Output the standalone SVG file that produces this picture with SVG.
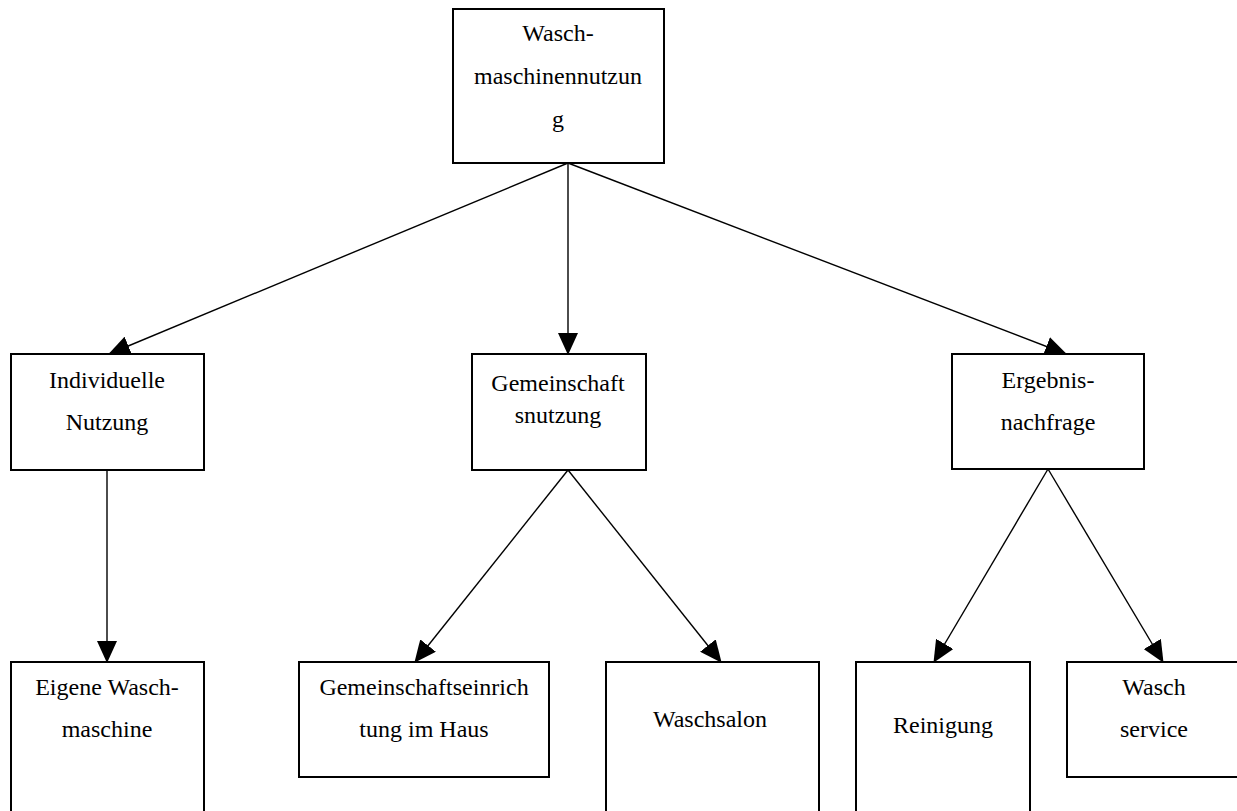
<svg xmlns="http://www.w3.org/2000/svg" width="1237" height="811" viewBox="0 0 1237 811">
<style>
.box{fill:#fff;stroke:#000;stroke-width:2}
.t{font-family:"Liberation Serif","Times New Roman",serif;font-size:24px;fill:#000;text-anchor:middle}
.c{stroke:#000;stroke-width:1.4;fill:none;marker-end:url(#ah)}
</style>
<defs>
<marker id="ah" markerUnits="userSpaceOnUse" markerWidth="22" markerHeight="20" refX="21" refY="10" orient="auto" viewBox="0 0 22 20">
<path d="M0,0 L22,10 L0,20 Z" fill="#000"/>
</marker>
</defs>
<rect width="1237" height="811" fill="#fff"/>
<g id="connectors">
<line class="c" x1="568" y1="163" x2="109" y2="354"/>
<line class="c" x1="568" y1="163" x2="568" y2="354"/>
<line class="c" x1="568" y1="163" x2="1066" y2="354"/>
<line class="c" x1="107" y1="470" x2="107" y2="662"/>
<line class="c" x1="568" y1="470" x2="415" y2="662"/>
<line class="c" x1="568" y1="470" x2="721" y2="662"/>
<line class="c" x1="1048" y1="469" x2="934" y2="662"/>
<line class="c" x1="1048" y1="469" x2="1163" y2="662"/>
</g>
<g id="n-root">
<rect class="box" x="453" y="9" width="211" height="154"/>
<text class="t" x="558" y="41">Wasch-</text>
<text class="t" x="558" y="84">maschinennutzun</text>
<text class="t" x="558" y="127">g</text>
</g>
<g id="n-individuell">
<rect class="box" x="11" y="354" width="193" height="116"/>
<text class="t" x="107" y="388">Individuelle</text>
<text class="t" x="107" y="430">Nutzung</text>
</g>
<g id="n-gemeinschaft">
<rect class="box" x="472" y="354" width="174" height="116"/>
<text class="t" x="558" y="391">Gemeinschaft</text>
<text class="t" x="558" y="423">snutzung</text>
</g>
<g id="n-ergebnis">
<rect class="box" x="952" y="354" width="192" height="115"/>
<text class="t" x="1048" y="388">Ergebnis-</text>
<text class="t" x="1048" y="430">nachfrage</text>
</g>
<g id="n-eigene">
<rect class="box" x="11" y="662" width="193" height="160"/>
<text class="t" x="107" y="695">Eigene Wasch-</text>
<text class="t" x="107" y="737">maschine</text>
</g>
<g id="n-einrichtung">
<rect class="box" x="299" y="662" width="250" height="115"/>
<text class="t" x="424" y="695">Gemeinschaftseinrich</text>
<text class="t" x="424" y="737">tung im Haus</text>
</g>
<g id="n-waschsalon">
<rect class="box" x="606" y="662" width="213" height="160"/>
<text class="t" x="710" y="727">Waschsalon</text>
</g>
<g id="n-reinigung">
<rect class="box" x="856" y="662" width="174" height="160"/>
<text class="t" x="943" y="733">Reinigung</text>
</g>
<g id="n-waschservice">
<rect class="box" x="1067" y="662" width="174" height="115"/>
<text class="t" x="1154" y="695">Wasch</text>
<text class="t" x="1154" y="737">service</text>
</g>
</svg>
